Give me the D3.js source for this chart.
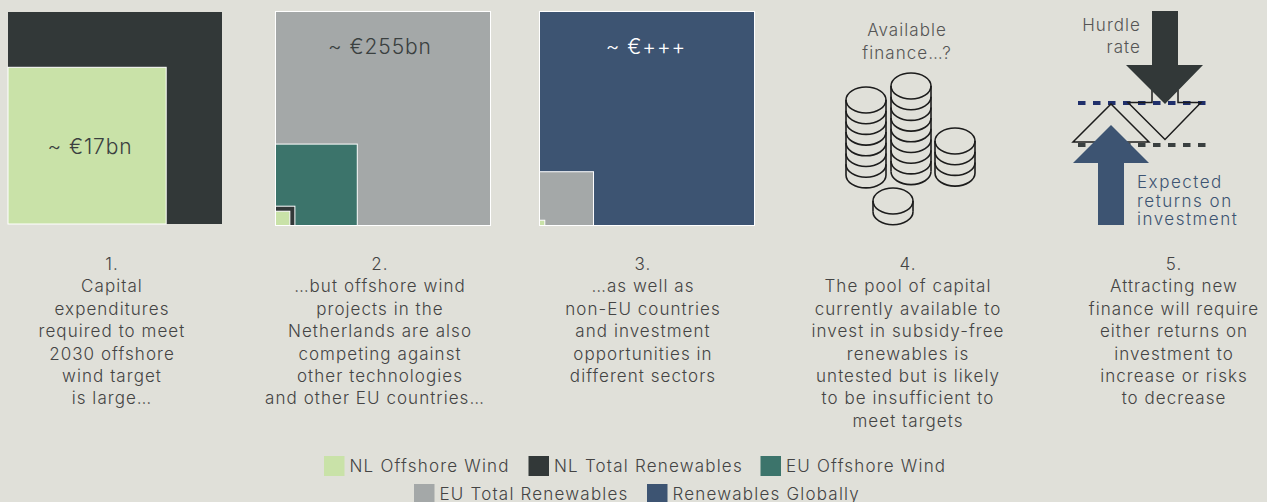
<!DOCTYPE html>
<html>
<head>
<meta charset="utf-8">
<script src="https://d3js.org/d3.v7.min.js"></script>
<style>
  html, body { margin: 0; padding: 0; background: #e0e0d9; }
  svg { display: block; }
  text { font-family: "Inter", sans-serif; font-weight: 300; letter-spacing: 1.05px; }
</style>
</head>
<body>
<div id="chart"></div>
<script>
var names = ["NL Offshore Wind", "NL Total Renewables", "EU Offshore Wind", "EU Total Renewables", "Renewables Globally"];
var colors = ["#c9e2a8", "#323838", "#3c746b", "#a4a8a8", "#3d5472"];

// value in EUR bn, the side of each square is proportional to it
var panel1Values = [23, 17];
var panel2Values = [255, 97, 23, 17];
var panel3Values = [1015, 255, 25];
var panel1Colors = [1, 0];
var panel2Colors = [3, 2, 1, 0];
var panel3Colors = [4, 3, 0];

var captions = [
  ["1.", "Capital", "expenditures", "required to meet", "2030 offshore", "wind target", "is large…"],
  ["2.", "…but offshore wind", "projects in the", "Netherlands are also", "competing against", "other technologies", "and other EU countries…"],
  ["3.", "…as well as", "non-EU countries", "and investment", "opportunities in", "different sectors"],
  ["4.", "The pool of capital", "currently available to", "invest in subsidy-free", "renewables is", "untested but is likely", "to be insufficient to", "meet targets"],
  ["5.", "Attracting new", "finance will require", "either returns on", "investment to", "increase or risks", "to decrease"]
];
var captionX = [112, 380, 643, 908, 1174];

var coinStacks = [
  {cx: 866, top: 100, layers: 7},
  {cx: 911, top: 86, layers: 8},
  {cx: 955, top: 141, layers: 3},
  {cx: 893, top: 201, layers: 1}
];

var svg = d3.select("#chart").append("svg")
    .attr("width", 1267)
    .attr("height", 502);

// Squares
function drawPanel(x0, bottom, w, h, values, colorIdx, label, labelX, labelY, labelColor) {
  var sideX = d3.scaleLinear().domain([0, values[0]]).range([0, w]);
  var sideY = d3.scaleLinear().domain([0, values[0]]).range([0, h]);
  var g = svg.append("g");
  g.selectAll("rect")
    .data(values)
    .enter()
    .append("rect")
    .attr("x", x0)
    .attr("y", function(d) { return bottom - sideY(d); })
    .attr("width", function(d) { return sideX(d); })
    .attr("height", function(d) { return sideY(d); })
    .attr("fill", function(d, i) { return colors[colorIdx[i]]; })
    .attr("stroke", function(d, i) { return (i == 0 && x0 < 100) ? "none" : "#fff"; })
    .attr("stroke-width", 1);
  g.append("text")
    .attr("x", labelX)
    .attr("y", labelY)
    .attr("text-anchor", "middle")
    .attr("fill", labelColor)
    .attr("font-size", 21)
    .style("letter-spacing", "0.9px")
    .text(label);
}
drawPanel(8, 224, 214, 212, panel1Values, panel1Colors, "~ €17bn", 90, 154, "#3a4040");
drawPanel(275.5, 225.5, 215, 214, panel2Values, panel2Colors, "~ €255bn", 380, 54, "#3a4040");
drawPanel(539.5, 225.5, 215, 214, panel3Values, panel3Colors, "~ €+++", 646, 54, "#fff");

// Coins
var coins = svg.append("g").attr("fill", "none").attr("stroke", "#1c1c1c").attr("stroke-width", 1.6);
coinStacks.forEach(function(s) {
  var rx = 20, ry = 13, gap = 10.7;
  var bottom = s.top + s.layers * gap;
  coins.append("ellipse").attr("cx", s.cx).attr("cy", s.top).attr("rx", rx).attr("ry", ry);
  d3.range(1, s.layers + 1).forEach(function(k) {
    var y = s.top + k * gap;
    coins.append("path")
      .attr("d", "M" + (s.cx - rx) + "," + y + "A" + rx + "," + ry + " 0 0 0 " + (s.cx + rx) + "," + y);
  });
  coins.append("line").attr("x1", s.cx - rx).attr("x2", s.cx - rx).attr("y1", s.top).attr("y2", bottom);
  coins.append("line").attr("x1", s.cx + rx).attr("x2", s.cx + rx).attr("y1", s.top).attr("y2", bottom);
});
svg.append("text").attr("x", 907).attr("y", 36).attr("text-anchor", "middle").attr("font-size", 17).attr("fill", "#555").text("Available");
svg.append("text").attr("x", 907).attr("y", 59).attr("text-anchor", "middle").attr("font-size", 17).attr("fill", "#555").text("finance…?");

// Hurdle rate diagram
var line = d3.line();
svg.append("line").attr("x1", 1078).attr("x2", 1206).attr("y1", 103).attr("y2", 103)
  .attr("stroke", "#1f2f6b").attr("stroke-width", 4).attr("stroke-dasharray", "7.5,7.5");
svg.append("line").attr("x1", 1078).attr("x2", 1206).attr("y1", 145).attr("y2", 145)
  .attr("stroke", "#3a4040").attr("stroke-width", 4).attr("stroke-dasharray", "7.5,7.5");
svg.append("path")
  .attr("d", line([[1152, 90], [1152, 102.5], [1128, 102.5], [1165, 139.5], [1201, 102.5], [1178, 102.5], [1178, 90]]))
  .attr("fill", "none").attr("stroke", "#1c1c1c").attr("stroke-width", 1.5);
svg.append("path")
  .attr("d", line([[1111, 104], [1073, 142], [1149, 142]]) + "Z")
  .attr("fill", "none").attr("stroke", "#1c1c1c").attr("stroke-width", 1.5);
svg.append("path")
  .attr("d", line([[1152, 11], [1178, 11], [1178, 65], [1203, 65], [1165, 104], [1126, 65], [1152, 65]]) + "Z")
  .attr("fill", colors[1]);
svg.append("path")
  .attr("d", line([[1111, 125], [1149, 163], [1124, 163], [1124, 225], [1098, 225], [1098, 163], [1073, 163]]) + "Z")
  .attr("fill", colors[4]);
["Hurdle", "rate"].forEach(function(t, i) {
  svg.append("text").attr("x", 1141).attr("y", 31 + i * 22).attr("text-anchor", "end")
    .attr("font-size", 17).attr("fill", "#555").text(t);
});
["Expected", "returns on", "investment"].forEach(function(t, i) {
  svg.append("text").attr("x", 1137).attr("y", 188 + i * 18.5).attr("font-size", 17)
    .attr("fill", colors[4]).style("letter-spacing", "1.5px").text(t);
});

// Captions
captions.forEach(function(lines, c) {
  svg.append("g").selectAll("text")
    .data(lines)
    .enter()
    .append("text")
    .attr("x", function(d) { return captionX[c] - (d.indexOf("and other") == 0 ? 5 : 0); })
    .attr("y", function(d, i) { return 270 + i * 22.4; })
    .attr("text-anchor", "middle")
    .attr("font-size", 17)
    .attr("fill", "#444")
    .text(function(d) { return d; });
});

// Legend
var legendRows = [[0, 1, 2], [3, 4]];
var legendX = [324, 528.5, 760.5, 414, 647];
var legendY = [456, 484];
legendRows.forEach(function(row, r) {
  row.forEach(function(idx) {
    svg.append("rect").attr("x", legendX[idx]).attr("y", legendY[r]).attr("width", 20.5).attr("height", 20)
      .attr("fill", colors[idx]);
    svg.append("text").attr("x", legendX[idx] + 25.5).attr("y", legendY[r] + 15.5)
      .attr("font-size", 17).attr("fill", "#444").style("letter-spacing", "1.2px").text(names[idx]);
  });
});
</script>
</body>
</html>
